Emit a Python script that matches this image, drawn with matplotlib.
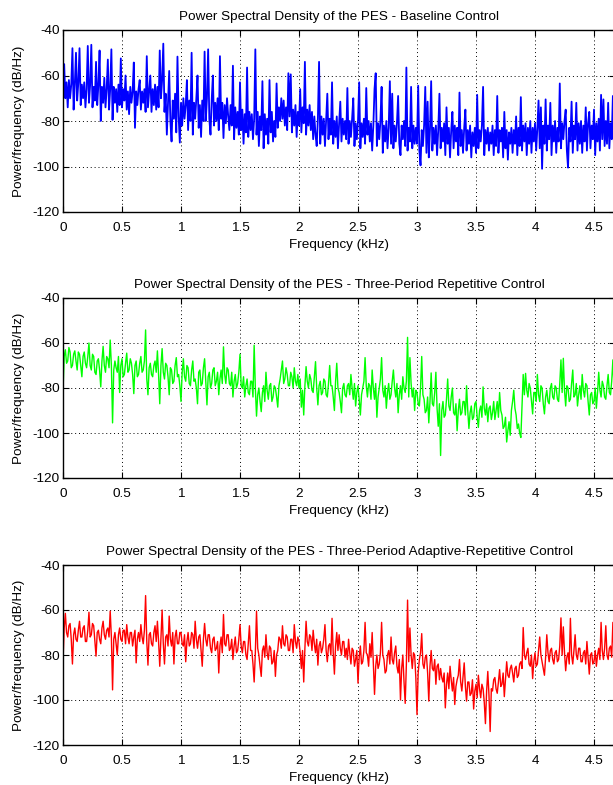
import numpy as np
import matplotlib
matplotlib.use("Agg")
import matplotlib.pyplot as plt

plt.rcParams['font.family'] = ['Liberation Sans', 'DejaVu Sans']

titles = [
    "Power Spectral Density of the PES - Baseline Control",
    "Power Spectral Density of the PES - Three-Period Repetitive Control",
    "Power Spectral Density of the PES - Three-Period Adaptive-Repetitive Control",
]
xlabel = "Frequency (kHz)"
ylabel = "Power/frequency (dB/Hz)"
xtick_vals = [0, 0.5, 1, 1.5, 2, 2.5, 3, 3.5, 4, 4.5]
xtick_labels = ["0", "0.5", "1", "1.5", "2", "2.5", "3", "3.5", "4", "4.5"]
ytick_vals = [-120, -100, -80, -60, -40]
ytick_labels = ["-120", "-100", "-80", "-60", "-40"]

# Baseline control PSD (dB/Hz), one value every 0.01 kHz from 0 kHz
baseline_step = 0.01
baseline_psd = [
    -72, -55, -70, -63, -74, -62, -70, -64, -48, -75, -64, -50, -71, -63, -48, -73, -64, -70, -63, -74,
    -66, -47, -72, -64, -46.5, -74, -65, -71, -54, -73, -64, -49, -80, -65, -72, -61, -74, -66, -53, -75,
    -66, -48.5, -79.5, -65, -72, -66, -76, -64, -73, -52.5, -74, -66, -71, -60, -75, -67, -77, -65, -72, -67,
    -54.3, -83, -67, -73, -66, -62, -75, -67, -72, -66, -76, -51.5, -74, -67, -60, -76, -66, -73, -64, -75,
    -65, -74, -49, -70, -62, -46, -76, -68, -86, -72, -58, -80, -89, -71, -79, -68, -85, -51.7, -78, -89.5,
    -72, -82, -70, -79, -73, -62, -84, -71, -80, -50, -86, -72, -79, -70, -60, -83, -73, -87, -71, -80,
    -49.5, -80, -70, -48.5, -79, -86, -71, -60, -82, -72, -80, -70, -84, -51.5, -79, -72, -87.5, -73, -81, -70,
    -78, -84, -73, -82, -55.7, -88, -74, -83, -76, -86, -63, -84, -75, -90, -77, -85, -56.5, -87, -76, -84,
    -77, -88, -79, -48.5, -86, -76, -91, -78, -84, -62.5, -92, -77, -86, -79, -90, -62, -85, -76, -89, -80,
    -87, -63.5, -83, -74, -80, -70, -79, -71, -82, -74, -84, -59, -78, -59.5, -85, -75, -82, -73, -87, -76,
    -82, -66, -85, -74, -81, -54, -86, -75, -82, -73, -84, -76, -88, -78, -86, -91, -79, -54, -90, -78,
    -86, -79, -91, -80, -68, -88, -79, -86, -63, -90, -80, -87, -78, -92, -81, -71.5, -89, -79, -86, -80,
    -88, -65.5, -90, -80, -87, -79, -70, -91, -81, -88, -80, -63, -92, -81, -87, -79, -90, -65.5, -86, -80,
    -89, -81, -93, -82, -66, -59, -91, -81, -88, -80, -65, -94, -82, -89, -80, -92, -83, -62.5, -90, -68,
    -92, -82, -89, -81, -69, -90, -95, -82, -88, -80, -91, -56.5, -93, -83, -89, -65, -92, -82, -90, -83,
    -90, -64.5, -93, -99.5, -84, -91, -82, -65, -94, -71.5, -96, -84, -62.5, -93, -83, -90, -82, -95, -84, -68,
    -92, -83, -89, -81, -95, -74, -90, -83, -96, -84, -76, -92, -82, -89, -83, -95, -67.5, -91, -84, -94,
    -83, -75, -93, -84, -90, -82, -96, -85, -91, -83, -94, -68.5, -92, -84, -89, -82, -65, -95, -84, -90,
    -83, -93, -85, -90, -82, -95, -84, -91, -69, -94, -84, -89, -83, -96, -76, -92, -84, -97, -85, -90,
    -83, -94, -84, -90, -78, -95, -83, -91, -69.5, -93, -82, -89, -81, -95, -83, -90, -80, -94, -83, -89,
    -81, -93, -83, -71, -92, -74, -101, -82, -90, -70.5, -93, -82, -88, -72, -95, -82, -89, -80, -94, -83,
    -89, -63.5, -92, -81, -88, -80, -75, -93, -100.5, -83, -89, -71.5, -94, -82, -88, -72, -93, -81, -90, -80,
    -94, -82, -89, -74, -93, -81, -76, -92, -82, -88, -75, -95, -81, -89, -79, -93, -68.5, -88, -70.5, -91,
    -80, -90, -72, -92, -81, -88, -69, -93, -82, -85,
]

# Three-period repetitive control PSD, one value every 0.01 kHz
repetitive_step = 0.01
repetitive_psd = [
    -81.5, -66, -63, -69, -68, -62, -64, -71, -70, -65, -63.5, -68, -72, -64, -65, -70, -75, -66, -64, -69,
    -71, -66, -60, -70, -72, -65, -66, -73, -74, -68, -67, -72, -79.5, -68, -61.5, -70, -73, -66, -67, -71,
    -58.7, -70, -95.5, -72, -68, -71, -73, -66, -82, -70, -67, -75, -74, -69, -64.5, -73, -72, -67, -69, -74,
    -82.5, -70, -68, -75, -74, -69, -66, -73, -72, -68, -54.2, -76, -83, -71, -69, -74, -75, -70, -68, -73,
    -63.5, -74, -87, -70, -62.5, -73, -76, -69, -70, -75, -83, -71, -72, -78, -77, -70, -66.5, -75, -74, -79,
    -86, -73, -67, -75, -77, -70, -71, -78, -79, -72, -68, -77, -76, -80, -87, -73, -72, -79, -78, -71,
    -67, -77, -87.5, -75, -73, -80, -78, -72, -71, -79, -77, -73, -83, -76, -72, -78, -61.7, -74, -78, -71,
    -72, -78, -79, -73, -84, -77, -74, -80, -78, -73, -65, -79, -80, -75, -84, -79, -76, -82, -83, -77,
    -77, -84, -61, -80, -92.5, -83, -80, -86, -90.5, -82, -79, -86, -73, -81, -85, -79, -78, -86, -84, -79,
    -80, -84, -88.5, -79, -76, -72, -68, -78, -76, -71, -74, -79, -79, -73, -75, -80, -71, -77, -79, -74,
    -80, -76, -88.5, -81, -92, -79, -70.5, -77, -80, -74, -76, -81, -82, -75, -68.3, -80, -87.5, -79, -77, -83,
    -82, -76, -77, -83, -84, -78, -70, -79, -79, -84, -90, -77, -69, -80, -82, -86, -91, -80, -78, -83,
    -84, -79, -78, -83, -74, -80, -85, -78, -88, -82, -79, -85, -92, -83, -80, -77, -66.5, -79, -84, -78,
    -79, -85, -72, -80, -85, -78, -93, -84, -80, -76, -66.5, -81, -84, -79, -89, -82, -78, -85, -83, -77,
    -72, -80, -84, -78, -91, -83, -79, -85, -75, -80, -82, -77, -57.5, -84, -66.5, -78, -84, -80, -90, -81,
    -82, -87, -88, -80, -66, -83, -85, -91, -90, -84, -95.5, -86, -73.3, -87, -88, -82, -73, -89, -97, -87,
    -110, -90, -86, -93, -92, -85, -76, -88, -90, -84, -80, -91, -92, -87, -99, -90, -85, -92, -91, -86,
    -86, -92, -79, -90, -98, -91, -88, -94, -93, -87, -86, -93, -97.5, -90, -88, -93, -79.5, -89, -92, -87,
    -95, -89, -88, -94, -91, -86, -94, -90, -86, -93, -82, -90, -92, -98, -97, -93, -104, -99, -95, -101,
    -90, -86, -81, -89, -92, -98, -96, -100, -102, -88, -74, -83, -73.5, -81, -84, -78, -80, -86, -91.5, -82,
    -82, -86, -74, -83, -86, -79, -80, -87, -91.5, -84, -81, -86, -87, -80, -78, -84, -85, -79, -80, -85,
    -86, -78, -67.5, -82, -66.8, -81, -88, -79, -80, -86, -85, -78, -72, -84, -83, -78, -88, -83, -79, -85,
    -74, -81, -84, -78, -79, -86, -92, -83, -82, -87, -86, -80, -89, -82, -73, -81, -84, -77, -79, -84,
    -85, -79, -74, -82, -83, -77, -67.5, -80, -82, -78,
]

# Three-period adaptive-repetitive control PSD, one value every 0.01 kHz
adaptive_step = 0.01
adaptive_psd = [
    -83, -68, -61.5, -70, -72, -67, -66, -73, -84, -71, -68, -73, -74, -69, -65, -72, -72, -68, -67, -74,
    -74, -69, -61, -72, -71, -66, -67, -74, -80.5, -70, -69, -73, -75, -68, -65, -71, -73, -69, -68, -72,
    -60.5, -72, -95.5, -73, -70, -75, -80, -71, -68, -73, -74, -69, -69, -75, -66.5, -72, -75, -70, -70, -76,
    -72, -69, -83.5, -73, -70, -74, -66.5, -72, -75, -69, -53.6, -74, -84.5, -71, -70, -75, -76, -70, -67, -74,
    -65, -74, -85, -72, -60, -75, -84, -72, -71, -76, -62.7, -73, -76, -70, -84, -72, -69, -75, -75, -70,
    -70, -75, -76, -71, -83, -74, -70, -76, -75, -70, -71, -77, -65, -73, -77, -72, -71, -78, -85, -73,
    -66, -73, -76, -71, -71, -77, -79, -73, -72, -78, -77, -74, -88, -76, -72, -79, -62, -75, -76, -71,
    -71, -78, -77, -73, -82, -76, -72, -79, -78, -73, -66.5, -76, -79, -74, -74, -80, -82, -75, -67, -78,
    -78, -84, -92, -79, -60.5, -77, -80, -85, -89.5, -78, -76, -81, -71, -79, -82, -76, -77, -84, -83, -78,
    -89.5, -80, -78, -72, -73, -77, -67, -75, -76, -71, -72, -78, -78, -73, -73, -79, -66.5, -74, -77, -72,
    -74, -79, -86, -78, -92, -77, -65, -74, -76, -71, -72, -78, -69, -75, -79, -73, -84.5, -76, -74, -79,
    -77, -73, -66.5, -78, -83, -76, -75, -80, -63.7, -79, -88.5, -76, -70, -78, -71, -77, -80, -74, -74, -81,
    -77, -82, -73, -79, -84, -77, -78, -85, -82, -78, -92.5, -81, -76, -84, -83, -78, -65.5, -79, -80, -85,
    -75, -81, -70, -84, -97.5, -85, -80, -86, -84, -79, -65.5, -80, -82, -88, -87, -80, -78, -84, -72, -82,
    -84, -79, -76, -85, -88, -82, -100, -86, -80, -92, -101.5, -84, -55.6, -83, -68, -80, -86, -79, -80, -90,
    -106.5, -88, -82, -79, -70.5, -84, -86, -81, -80, -88, -100.5, -85, -78, -86, -87, -82, -93, -85, -84, -91,
    -86, -90, -92, -88, -103.5, -93, -88, -95, -85, -91, -96, -90, -102, -94, -91, -89, -82, -92, -96, -90,
    -83.5, -94, -100.5, -92, -92, -98, -97, -91, -104, -96, -93, -99, -89, -95, -99, -93, -95, -101, -110.5, -96,
    -87.3, -98, -114, -95, -96, -91, -90, -95, -97, -92, -86.5, -94, -93, -88, -98.5, -91, -83, -89, -90, -86,
    -84.5, -88, -92, -86, -85, -90, -89, -84, -83, -86, -67.8, -80, -82, -79, -77, -84, -85, -80, -90.5, -83,
    -79, -85, -84, -78, -72, -80, -83, -86, -89, -81, -71, -79, -83, -78, -77, -82, -84, -79, -78, -83,
    -82, -76, -63.5, -80, -67.5, -79, -87, -81, -79, -84, -63.7, -80, -84, -78, -71, -80, -82, -77, -77, -83,
    -83, -79, -78, -84, -74, -81, -88.5, -80, -79, -84, -83, -78, -85, -80, -77, -82, -65.5, -78, -82, -77,
    -67, -80, -82, -77, -76, -81, -65.5, -79, -80, -76,
]

series = [
    (baseline_step, baseline_psd, (0, 0, 1), 1.3),
    (repetitive_step, repetitive_psd, (0, 1, 0), 1.0),
    (adaptive_step, adaptive_psd, (1, 0, 0), 1.0),
]

W, H = 613, 785
fig = plt.figure(figsize=(W / 100, H / 100), dpi=100)

ax_tops = [30, 298, 565]
ax_bots = [212, 478, 745]
left_px = 63
px_per_khz = 118.0
x_max = 4.68

fs = 9.7
for i, (step, psd, color, lw) in enumerate(series):
    top, bot = ax_tops[i], ax_bots[i]
    ax = fig.add_axes([left_px / W, 1 - bot / H, x_max * px_per_khz / W, (bot - top) / H])
    freq = np.arange(len(psd)) * step
    ax.plot(freq, psd, color=color, lw=lw)
    ax.set_xlim(0, x_max)
    ax.set_ylim(-120, -40)
    ax.set_xticks(xtick_vals)
    ax.set_xticklabels(xtick_labels, fontsize=fs)
    ax.set_yticks(ytick_vals)
    ax.set_yticklabels(ytick_labels, fontsize=fs)
    ax.tick_params(direction='in', length=4, width=0.8, top=True, right=True,
                   colors='black')
    ax.tick_params(axis='x', pad=7.5)
    ax.tick_params(axis='y', pad=2.5)
    ax.grid(True, color='black', linestyle=(0, (1, 3)), linewidth=0.7)
    for s in ax.spines.values():
        s.set_linewidth(1.0)
        s.set_color('black')
    ax.set_title(titles[i], fontsize=fs, pad=7)
    ax.set_xlabel(xlabel, fontsize=fs, labelpad=3)
    ax.set_ylabel(ylabel, fontsize=fs, labelpad=5)

fig.savefig("out.png", dpi=100)
